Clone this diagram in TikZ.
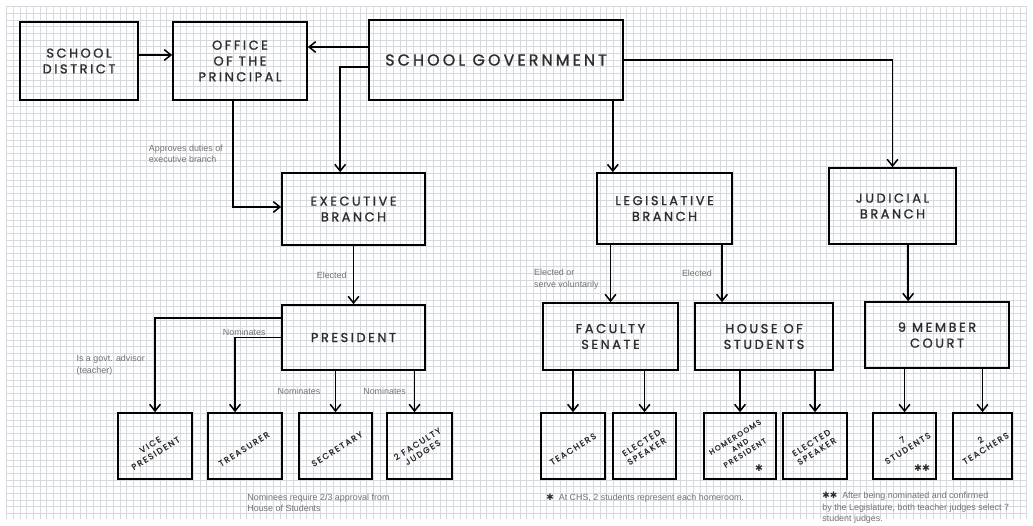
\documentclass[tikz,border=0pt]{standalone}
\usepackage{fontspec}
\usepackage{tikz}
\usetikzlibrary{arrows.meta, positioning, calc}
\newfontfamily\handfont[LetterSpace=20, FakeBold=1.2]{Poppins}
\newfontfamily\notefont{Liberation Sans}
\newfontfamily\symfont{DejaVu Sans}
\definecolor{inkcolor}{RGB}{45,45,45}
\definecolor{notecolor}{RGB}{115,115,115}
\definecolor{gridcolor}{RGB}{214,217,222}

\begin{document}
\begin{tikzpicture}[
    x=0.03cm, y=-0.03cm,
    box/.style={draw, line width=1.4pt, inner sep=1pt, align=center, text=inkcolor, font=\handfont\fontsize{11}{13.5}\selectfont},
    leaf/.style={box, minimum height=1.98cm},
    tilt/.style={rotate=32, align=center, inner sep=0pt, text=inkcolor, font=\handfont\fontsize{7.1}{8.6}\selectfont},
    note/.style={align=left, inner sep=1pt, text=notecolor, font=\notefont\fontsize{7.6}{9.5}\selectfont},
    star/.style={inner sep=0pt, text=inkcolor, font=\symfont\fontsize{8}{8}\selectfont},
    flow/.style={-{Straight Barb[length=2mm, width=3.2mm]}, line width=1.3pt}
]
    % Paper
    \useasboundingbox (0,0) rectangle (1033,525);
    \fill[white] (0,0) rectangle (1033,525);
    \draw[gridcolor, line width=0.4pt, step=0.2cm] (6,6) grid (1027,519);

    % Top row
    \node[box, minimum width=3.54cm, minimum height=2.34cm] (district) at (79,61) {SCHOOL\\DISTRICT};
    \node[box, minimum width=4.02cm, minimum height=2.34cm] (principal) at (240,61) {OFFICE\\OF THE\\PRINCIPAL};
    \node[box, minimum width=7.62cm, minimum height=2.4cm, font=\handfont\fontsize{13.5}{15}\selectfont] (gov) at (496,60) {SCHOOL GOVERNMENT};

    % Branches
    \node[box, minimum width=4.29cm, minimum height=2.16cm] (exec) at (353.5,209) {EXECUTIVE\\BRANCH};
    \node[box, minimum width=4.05cm, minimum height=2.13cm] (legis) at (664.5,208.5) {LEGISLATIVE\\BRANCH};
    \node[box, minimum width=3.81cm, minimum height=2.28cm] (judic) at (892.5,206) {JUDICIAL\\BRANCH};

    % Bodies
    \node[box, minimum width=4.29cm, minimum height=1.95cm] (pres) at (353.5,337.5) {PRESIDENT};
    \node[box, minimum width=4.05cm, minimum height=2.01cm] (senate) at (610.5,336.5) {FACULTY\\SENATE};
    \node[box, minimum width=4.14cm, minimum height=2.01cm] (house) at (764,336.5) {HOUSE OF\\STUDENTS};
    \node[box, minimum width=4.32cm, minimum height=1.98cm] (court) at (937,335) {9 MEMBER\\COURT};

    % Members
    \node[leaf, minimum width=2.22cm] (vp) at (155,446) {};
    \node[leaf, minimum width=2.22cm] (treas) at (245,446) {};
    \node[leaf, minimum width=2.19cm] (sec) at (335.5,446) {};
    \node[leaf, minimum width=1.95cm] (judges) at (419.5,446) {};
    \node[leaf, minimum width=1.92cm] (teach) at (573,446) {};
    \node[leaf, minimum width=1.89cm] (speaka) at (644.5,446) {};
    \node[leaf, minimum width=2.16cm] (home) at (740,446) {};
    \node[leaf, minimum width=1.92cm] (speakb) at (815,446) {};
    \node[leaf, minimum width=1.89cm] (stud) at (904.5,446) {};
    \node[leaf, minimum width=1.77cm] (teachb) at (982.5,446) {};

    \node[tilt] (vptext) at (153,449) {VICE\\PRESIDENT};
    \node[tilt] (treastext) at (244,449) {TREASURER};
    \node[tilt] (sectext) at (337,449) {SECRETARY};
    \node[tilt] (judgestext) at (420,448) {2 FACULTY\\JUDGES};
    \node[tilt] (teachtext) at (573,449) {TEACHERS};
    \node[tilt] (speakatext) at (644,447) {ELECTED\\SPEAKER};
    \node[tilt, font=\handfont\fontsize{6.3}{8}\selectfont] (hometext) at (740,445) {HOMEROOMS\\AND\\PRESIDENT};
    \node[tilt] (speakbtext) at (814,447) {ELECTED\\SPEAKER};
    \node[tilt] (studtext) at (905,444) {7\\STUDENTS};
    \node[tilt] (teachbtext) at (983,444) {2\\TEACHERS};
    \node[star] (homestar) at (759,468) {✱};
    \node[star] (studstar) at (922,468) {✱✱};

    % Links
    \coordinate (distr) at ([yshift=0.18cm]district.east);
    \draw[flow] (distr) -- (distr -| principal.west);
    \coordinate (govup) at ([yshift=0.39cm]gov.west);
    \draw[flow] (govup) -- (govup -| principal.east);
    \coordinate (govlow) at ([yshift=-0.21cm]gov.west);
    \coordinate (exectop) at ([xshift=-0.4cm]exec.north);
    \draw[flow] (govlow) -| (exectop);
    \coordinate (princbot) at ([xshift=-0.21cm]principal.south);
    \draw[flow] (princbot) |- node[note, left=0.25cm, pos=0.25] {Approves duties of\\executive branch} ([yshift=0.06cm]exec.west);
    \coordinate (legtop) at ([xshift=-1.55cm]legis.north);
    \draw[flow] (legtop |- gov.south) -- (legtop);
    \draw[flow] (gov.east) -| (judic.north);

    \draw[flow] (exec) -- node[note, left=0.15cm] {Elected} (pres);
    \coordinate (presup) at ([yshift=0.58cm]pres.west);
    \draw[flow] (presup) -| node[note, left=0.25cm, pos=0.75] {Is a govt. advisor\\(teacher)} (vp.north);
    \coordinate (trtop) at ([xshift=-0.3cm]treas.north);
    \draw[flow] (pres.west) -| node[note, above, pos=0.4] {Nominates} (trtop);
    \draw[flow] (sec.north |- pres.south) -- node[note, left=0.4cm] {Nominates} (sec.north);
    \coordinate (jdtop) at ([xshift=-0.15cm]judges.north);
    \draw[flow] (jdtop |- pres.south) -- node[note, left=0.2cm] {Nominates} (jdtop);

    \draw[flow] (senate.north |- legis.south) -- node[note, left=0.3cm, pos=0.6] {Elected or\\serve voluntarily} (senate.north);
    \coordinate (hotop) at ([xshift=-1.26cm]house.north);
    \draw[flow] (hotop |- legis.south) -- node[note, left=0.25cm] {Elected} (hotop);
    \coordinate (jubot) at ([xshift=0.47cm]judic.south);
    \draw[flow] (jubot) -- (jubot |- court.north);

    \draw[flow] (teach.north |- senate.south) -- (teach.north);
    \draw[flow] (speaka.north |- senate.south) -- (speaka.north);
    \draw[flow] (home.north |- house.south) -- (home.north);
    \draw[flow] (speakb.north |- house.south) -- (speakb.north);
    \draw[flow] (stud.north |- court.south) -- (stud.north);
    \draw[flow] (teachb.north |- court.south) -- (teachb.north);

    % Footnotes
    \node[note, anchor=north west] (fnpres) at (246,493) {Nominees require 2/3 approval from\\House of Students};
    \node[note, anchor=west] (fnhome) at (545,498) {{\color{inkcolor}\symfont ✱}\ \ At CHS, 2 students represent each homeroom.};
    \node[note, anchor=north west] (fncourt) at (821,491) {{\color{inkcolor}\symfont ✱✱}\ \ After being nominated and confirmed\\by the Legislature, both teacher judges select 7\\student judges.};
\end{tikzpicture}
\end{document}
